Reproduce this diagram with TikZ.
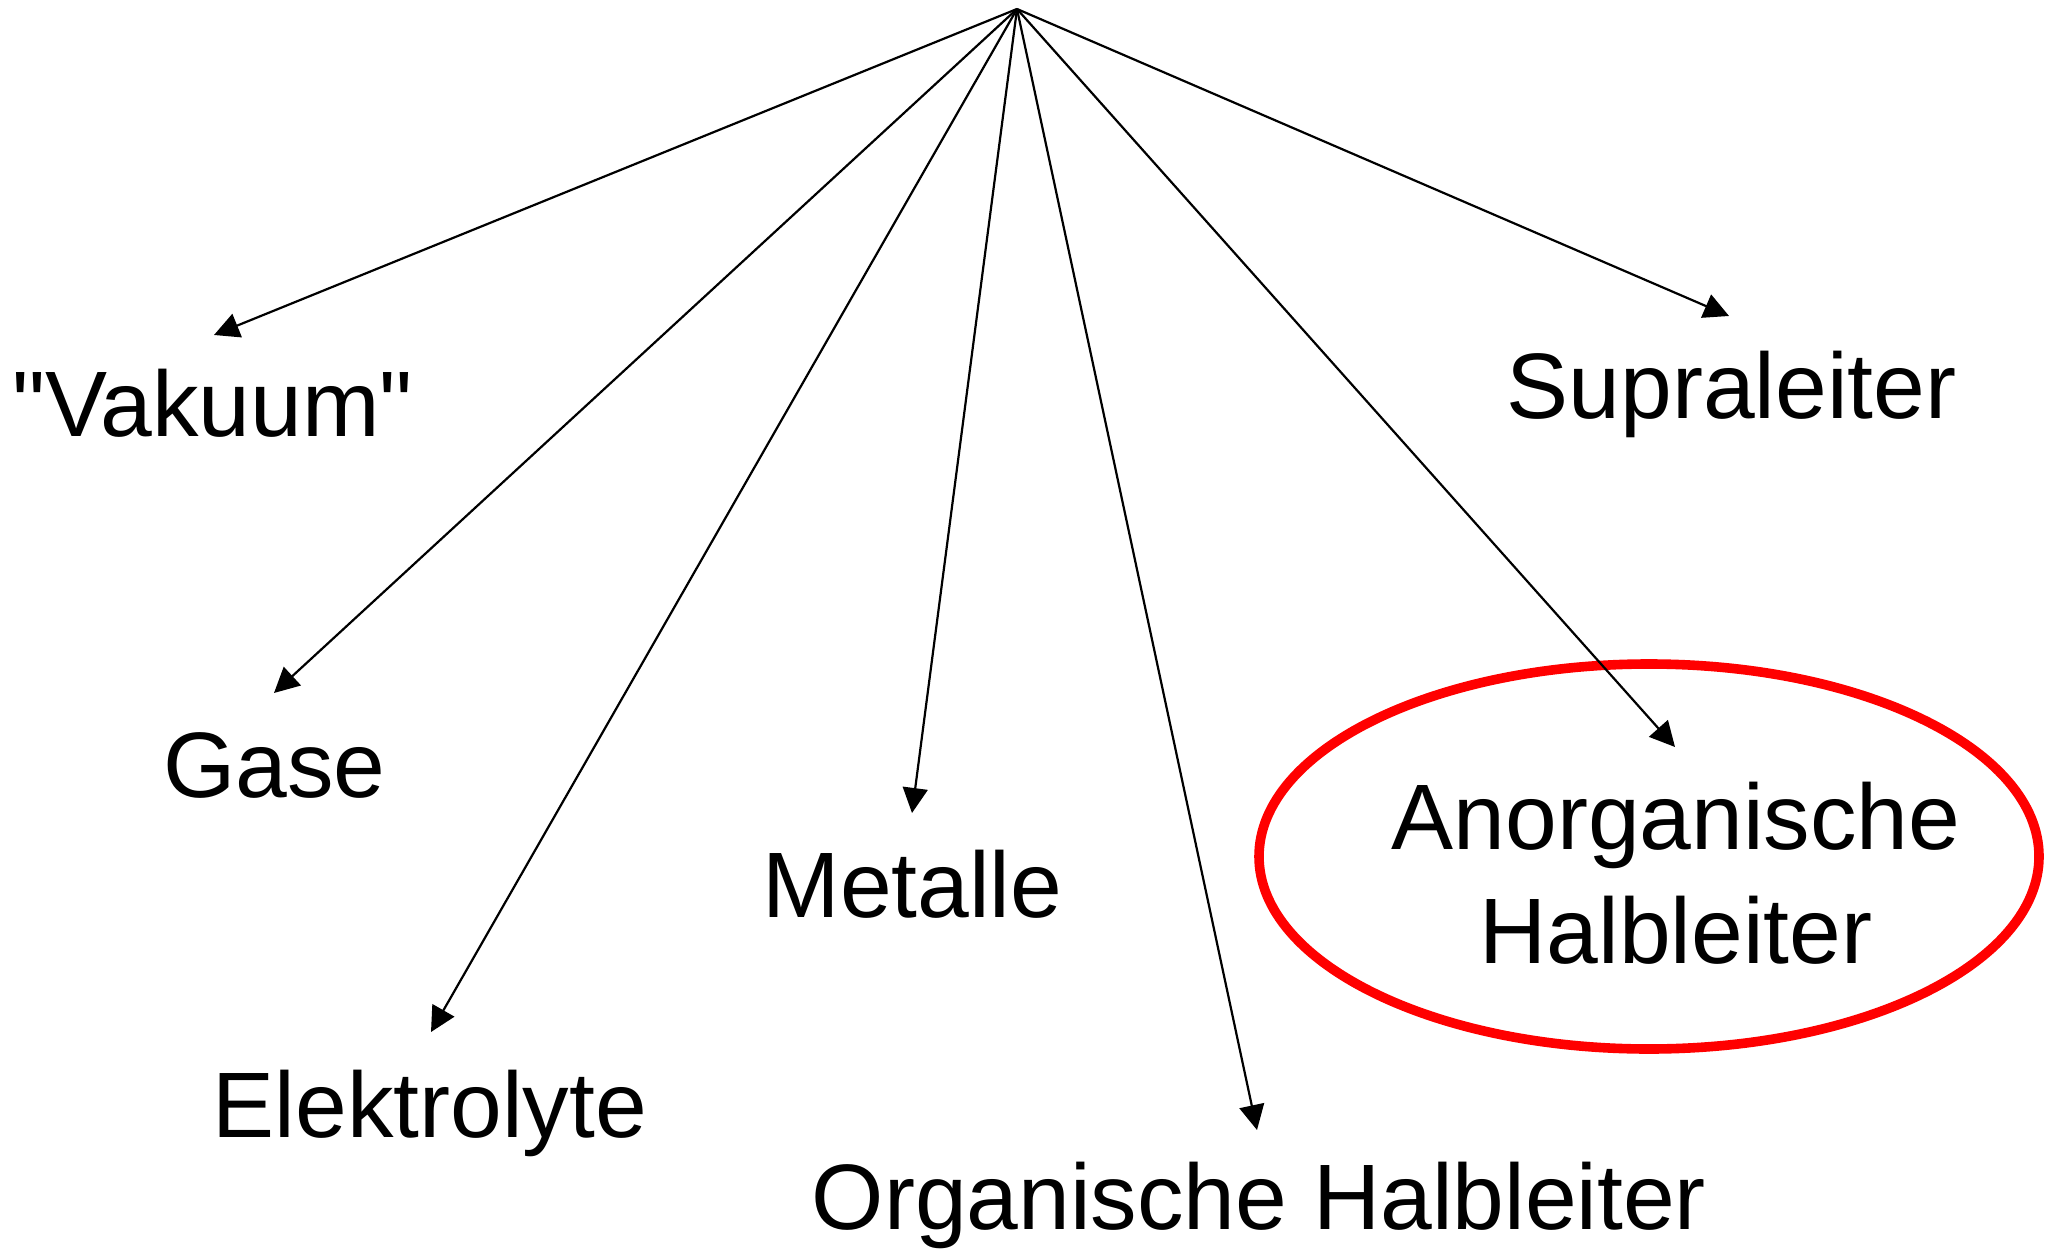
\documentclass[tikz,border=0pt]{standalone}
\usepackage{fontspec}
\setmainfont{Liberation Sans}[Ligatures=TeXOff]
\usetikzlibrary{arrows.meta}
\begin{document}
\begin{tikzpicture}[x=0.5pt,y=-0.5pt,
  lbl/.style={anchor=base,inner sep=0pt,font=\fontsize{46.5pt}{57pt}\selectfont},
  link/.style={line width=1.1pt,-{Triangle[length=12.5pt,width=12.5pt]}},
  ring/.style={draw=red,line width=4.8pt}]
\useasboundingbox (0,0) rectangle (2049,1251);

% category labels
\node[lbl] (vak)  at (212.5,437) {"Vakuum"};
\node[lbl] (gase) at (274.5,797) {Gase};
\node[lbl] (elek) at (430,1137) {Elektrolyte};
\node[lbl] (met)  at (912.5,917) {Metalle};
\node[lbl] (org)  at (1259,1229) {Organische Halbleiter};
\node[lbl] (supra) at (1731.5,418) {Supraleiter};
\node[lbl,align=center] (anorg) at (1676,963) {Anorganische\\Halbleiter};

% highlight ring
\draw[ring] (1649,856.5) ellipse [x radius=390, y radius=192.5];

% common origin and arrow tips
\coordinate (root) at (1017,9);
\coordinate (tvak)   at (214,335);
\coordinate (tgase)  at (274,693);
\coordinate (telek)  at (431,1032);
\coordinate (tmet)   at (912,813);
\coordinate (torg)   at (1257,1130);
\coordinate (tanorg) at (1675,747);
\coordinate (tsupra) at (1729,316);

\foreach \t in {tvak,tgase,telek,tmet,torg,tanorg,tsupra}
  \draw[link] (root) -- (\t);
\end{tikzpicture}
\end{document}
